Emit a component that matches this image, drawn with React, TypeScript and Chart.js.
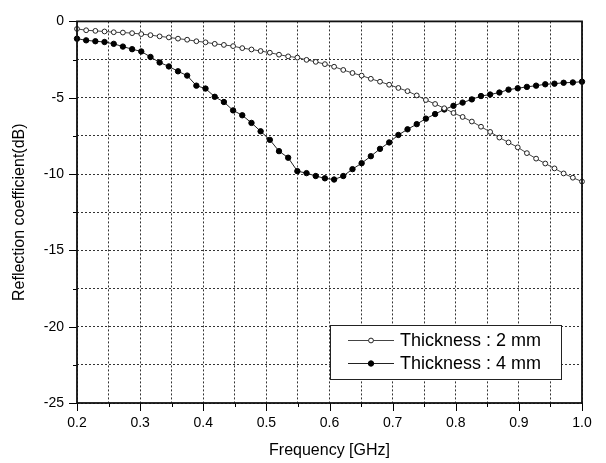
import { useEffect, useRef } from "react";
import { Chart, registerables } from "chart.js";

Chart.register(...registerables);

const frequencies = [
  0.2, 0.2145, 0.2291, 0.2436, 0.2582, 0.2727, 0.2873, 0.3018, 0.3164, 0.3309,
  0.3455, 0.36, 0.3745, 0.3891, 0.4036, 0.4182, 0.4327, 0.4473, 0.4618, 0.4764,
  0.4909, 0.5055, 0.52, 0.5345, 0.5491, 0.5636, 0.5782, 0.5927, 0.6073, 0.6218,
  0.6364, 0.6509, 0.6655, 0.68, 0.6945, 0.7091, 0.7236, 0.7382, 0.7527, 0.7673,
  0.7818, 0.7964, 0.8109, 0.8255, 0.84, 0.8545, 0.8691, 0.8836, 0.8982, 0.9127,
  0.9273, 0.9418, 0.9564, 0.9709, 0.9855, 1.0,
];

const thickness2mm = [
  -0.49, -0.58, -0.62, -0.66, -0.71, -0.73, -0.77, -0.83, -0.9, -0.98,
  -1.05, -1.13, -1.2, -1.3, -1.37, -1.47, -1.54, -1.62, -1.75, -1.84,
  -1.94, -2.05, -2.18, -2.29, -2.37, -2.52, -2.65, -2.8, -2.97, -3.18,
  -3.38, -3.55, -3.76, -3.95, -4.15, -4.36, -4.57, -4.85, -5.15, -5.41,
  -5.69, -6.0, -6.26, -6.56, -6.9, -7.24, -7.61, -7.93, -8.25, -8.63,
  -8.99, -9.31, -9.63, -9.96, -10.24, -10.49,
];

const thickness4mm = [
  -1.13, -1.24, -1.3, -1.35, -1.47, -1.65, -1.82, -1.97, -2.33, -2.69,
  -2.95, -3.27, -3.55, -4.21, -4.4, -4.94, -5.28, -5.83, -6.15, -6.65,
  -7.2, -7.76, -8.5, -8.93, -9.81, -9.94, -10.13, -10.28, -10.36, -10.13,
  -9.68, -9.29, -8.83, -8.35, -7.93, -7.44, -7.07, -6.73, -6.37, -6.07,
  -5.77, -5.53, -5.32, -5.11, -4.89, -4.79, -4.66, -4.47, -4.38, -4.29,
  -4.21, -4.12, -4.08, -4.02, -4.0, -3.95,
];

const seriesLabels = ["Thickness : 2 mm", "Thickness : 4 mm"];
const xAxisTitle = "Frequency [GHz]";
const yAxisTitle = "Reflection coefficient(dB)";

const FONT = "'Liberation Sans', Arial, Helvetica, sans-serif";

const framePlugin = {
  id: "frame",
  afterDraw(chart: any) {
    const { ctx, chartArea, scales } = chart;
    const { left, right, top, bottom } = chartArea;
    ctx.save();
    // ticks
    ctx.strokeStyle = "#000";
    ctx.lineWidth = 1;
    ctx.beginPath();
    scales.x.ticks.forEach((t: any) => {
      const px = Math.round(scales.x.getPixelForValue(t.value)) + 0.5;
      const major = Math.round(t.value * 20) % 2 === 0;
      ctx.moveTo(px, bottom);
      ctx.lineTo(px, bottom + (major ? 8 : 4));
    });
    scales.y.ticks.forEach((t: any) => {
      const py = Math.round(scales.y.getPixelForValue(t.value)) + 0.5;
      const major = Math.round(t.value / 2.5) % 2 === 0;
      ctx.moveTo(left, py);
      ctx.lineTo(left - (major ? 8 : 4), py);
    });
    ctx.stroke();
    // frame
    ctx.lineWidth = 1.8;
    ctx.strokeStyle = "#111";
    ctx.strokeRect(left, top, right - left, bottom - top);

    // legend
    const bx = 330, by = 325, bw = 231, bh = 54;
    ctx.fillStyle = "#fff";
    ctx.fillRect(bx, by, bw, bh);
    ctx.lineWidth = 1;
    ctx.strokeStyle = "#222";
    ctx.strokeRect(bx + 0.5, by + 0.5, bw, bh);
    const rows = [340, 363];
    const baselines = [346, 369];
    chart.data.datasets.forEach((ds: any, i: number) => {
      const y = rows[i];
      ctx.beginPath();
      ctx.strokeStyle = ds.borderColor;
      ctx.lineWidth = 1;
      ctx.moveTo(348, y + 0.5);
      ctx.lineTo(394, y + 0.5);
      ctx.stroke();
      ctx.beginPath();
      ctx.arc(371, y + 0.5, ds.pointRadius, 0, Math.PI * 2);
      ctx.fillStyle = ds.pointBackgroundColor;
      ctx.fill();
      ctx.strokeStyle = ds.pointBorderColor;
      ctx.stroke();
      ctx.fillStyle = "#000";
      ctx.font = `18px ${FONT}`;
      ctx.textBaseline = "alphabetic";
      ctx.textAlign = "left";
      ctx.fillText(ds.label, 400, baselines[i]);
    });
    ctx.restore();
  },
};

export default function App() {
  const ref = useRef<HTMLCanvasElement | null>(null);

  useEffect(() => {
    document.body.style.margin = "0";
    const canvas = ref.current;
    if (!canvas) return;
    const chart = new Chart(canvas, {
      type: "line",
      data: {
        datasets: [
          {
            label: seriesLabels[0],
            data: frequencies.map((f, i) => ({ x: f, y: thickness2mm[i] })),
            borderColor: "#444",
            borderWidth: 1,
            pointRadius: 2.4,
            pointBorderWidth: 1,
            pointBackgroundColor: "#fff",
            pointBorderColor: "#222",
            tension: 0,
            clip: 6,
          },
          {
            label: seriesLabels[1],
            data: frequencies.map((f, i) => ({ x: f, y: thickness4mm[i] })),
            borderColor: "#222",
            borderWidth: 1,
            pointRadius: 2.7,
            pointBorderWidth: 1,
            pointBackgroundColor: "#000",
            pointBorderColor: "#000",
            tension: 0,
            clip: 6,
          },
        ],
      },
      options: {
        animation: false,
        responsive: false,
        events: [],
        layout: { padding: { top: 13, right: 24, left: 0, bottom: 0 } },
        plugins: {
          legend: { display: false },
          tooltip: { enabled: false },
        },
        scales: {
          x: {
            type: "linear",
            min: 0.2,
            max: 1.0,
            afterFit: (s: any) => {
              s.height = 60;
            },
            afterBuildTicks: (s: any) => {
              const t = [];
              for (let i = 0; i <= 16; i++) t.push({ value: +(0.2 + i * 0.05).toFixed(2) });
              s.ticks = t;
            },
            grid: {
              color: "#333",
              lineWidth: 1,
              drawTicks: false,
            },
            border: { display: false, dash: [2, 2] },
            ticks: {
              padding: 12,
              color: "#000",
              font: { family: FONT, size: 14 },
              maxRotation: 0,
              autoSkip: false,
              callback: (v: any) =>
                Math.round(Number(v) * 20) % 2 === 0 ? Number(v).toFixed(1) : "",
            },
            title: {
              display: true,
              text: xAxisTitle,
              color: "#000",
              font: { family: FONT, size: 16 },
              padding: { top: 0, bottom: 3 },
            },
          },
          y: {
            type: "linear",
            min: -25,
            max: 0,
            afterFit: (s: any) => {
              s.width = 77;
            },
            afterBuildTicks: (s: any) => {
              const t = [];
              for (let i = 0; i <= 10; i++) t.push({ value: -25 + i * 2.5 });
              s.ticks = t;
            },
            grid: {
              color: "#333",
              lineWidth: 1,
              drawTicks: false,
            },
            border: { display: false, dash: [2, 2] },
            ticks: {
              padding: 13,
              color: "#000",
              font: { family: FONT, size: 14 },
              autoSkip: false,
              callback: (v: any) =>
                Math.round(Number(v) / 2.5) % 2 === 0 ? String(Number(v)) : "",
            },
            title: {
              display: true,
              text: yAxisTitle,
              color: "#000",
              font: { family: FONT, size: 16 },
              padding: { top: 10, bottom: 0 },
            },
          },
        },
      },
      plugins: [framePlugin],
    } as any);
    return () => chart.destroy();
  }, []);

  return (
    <div style={{ position: "absolute", left: 0, top: 0, width: 606, height: 463, background: "#fff" }}>
      <canvas ref={ref} width={606} height={463} style={{ display: "block" }} />
    </div>
  );
}
